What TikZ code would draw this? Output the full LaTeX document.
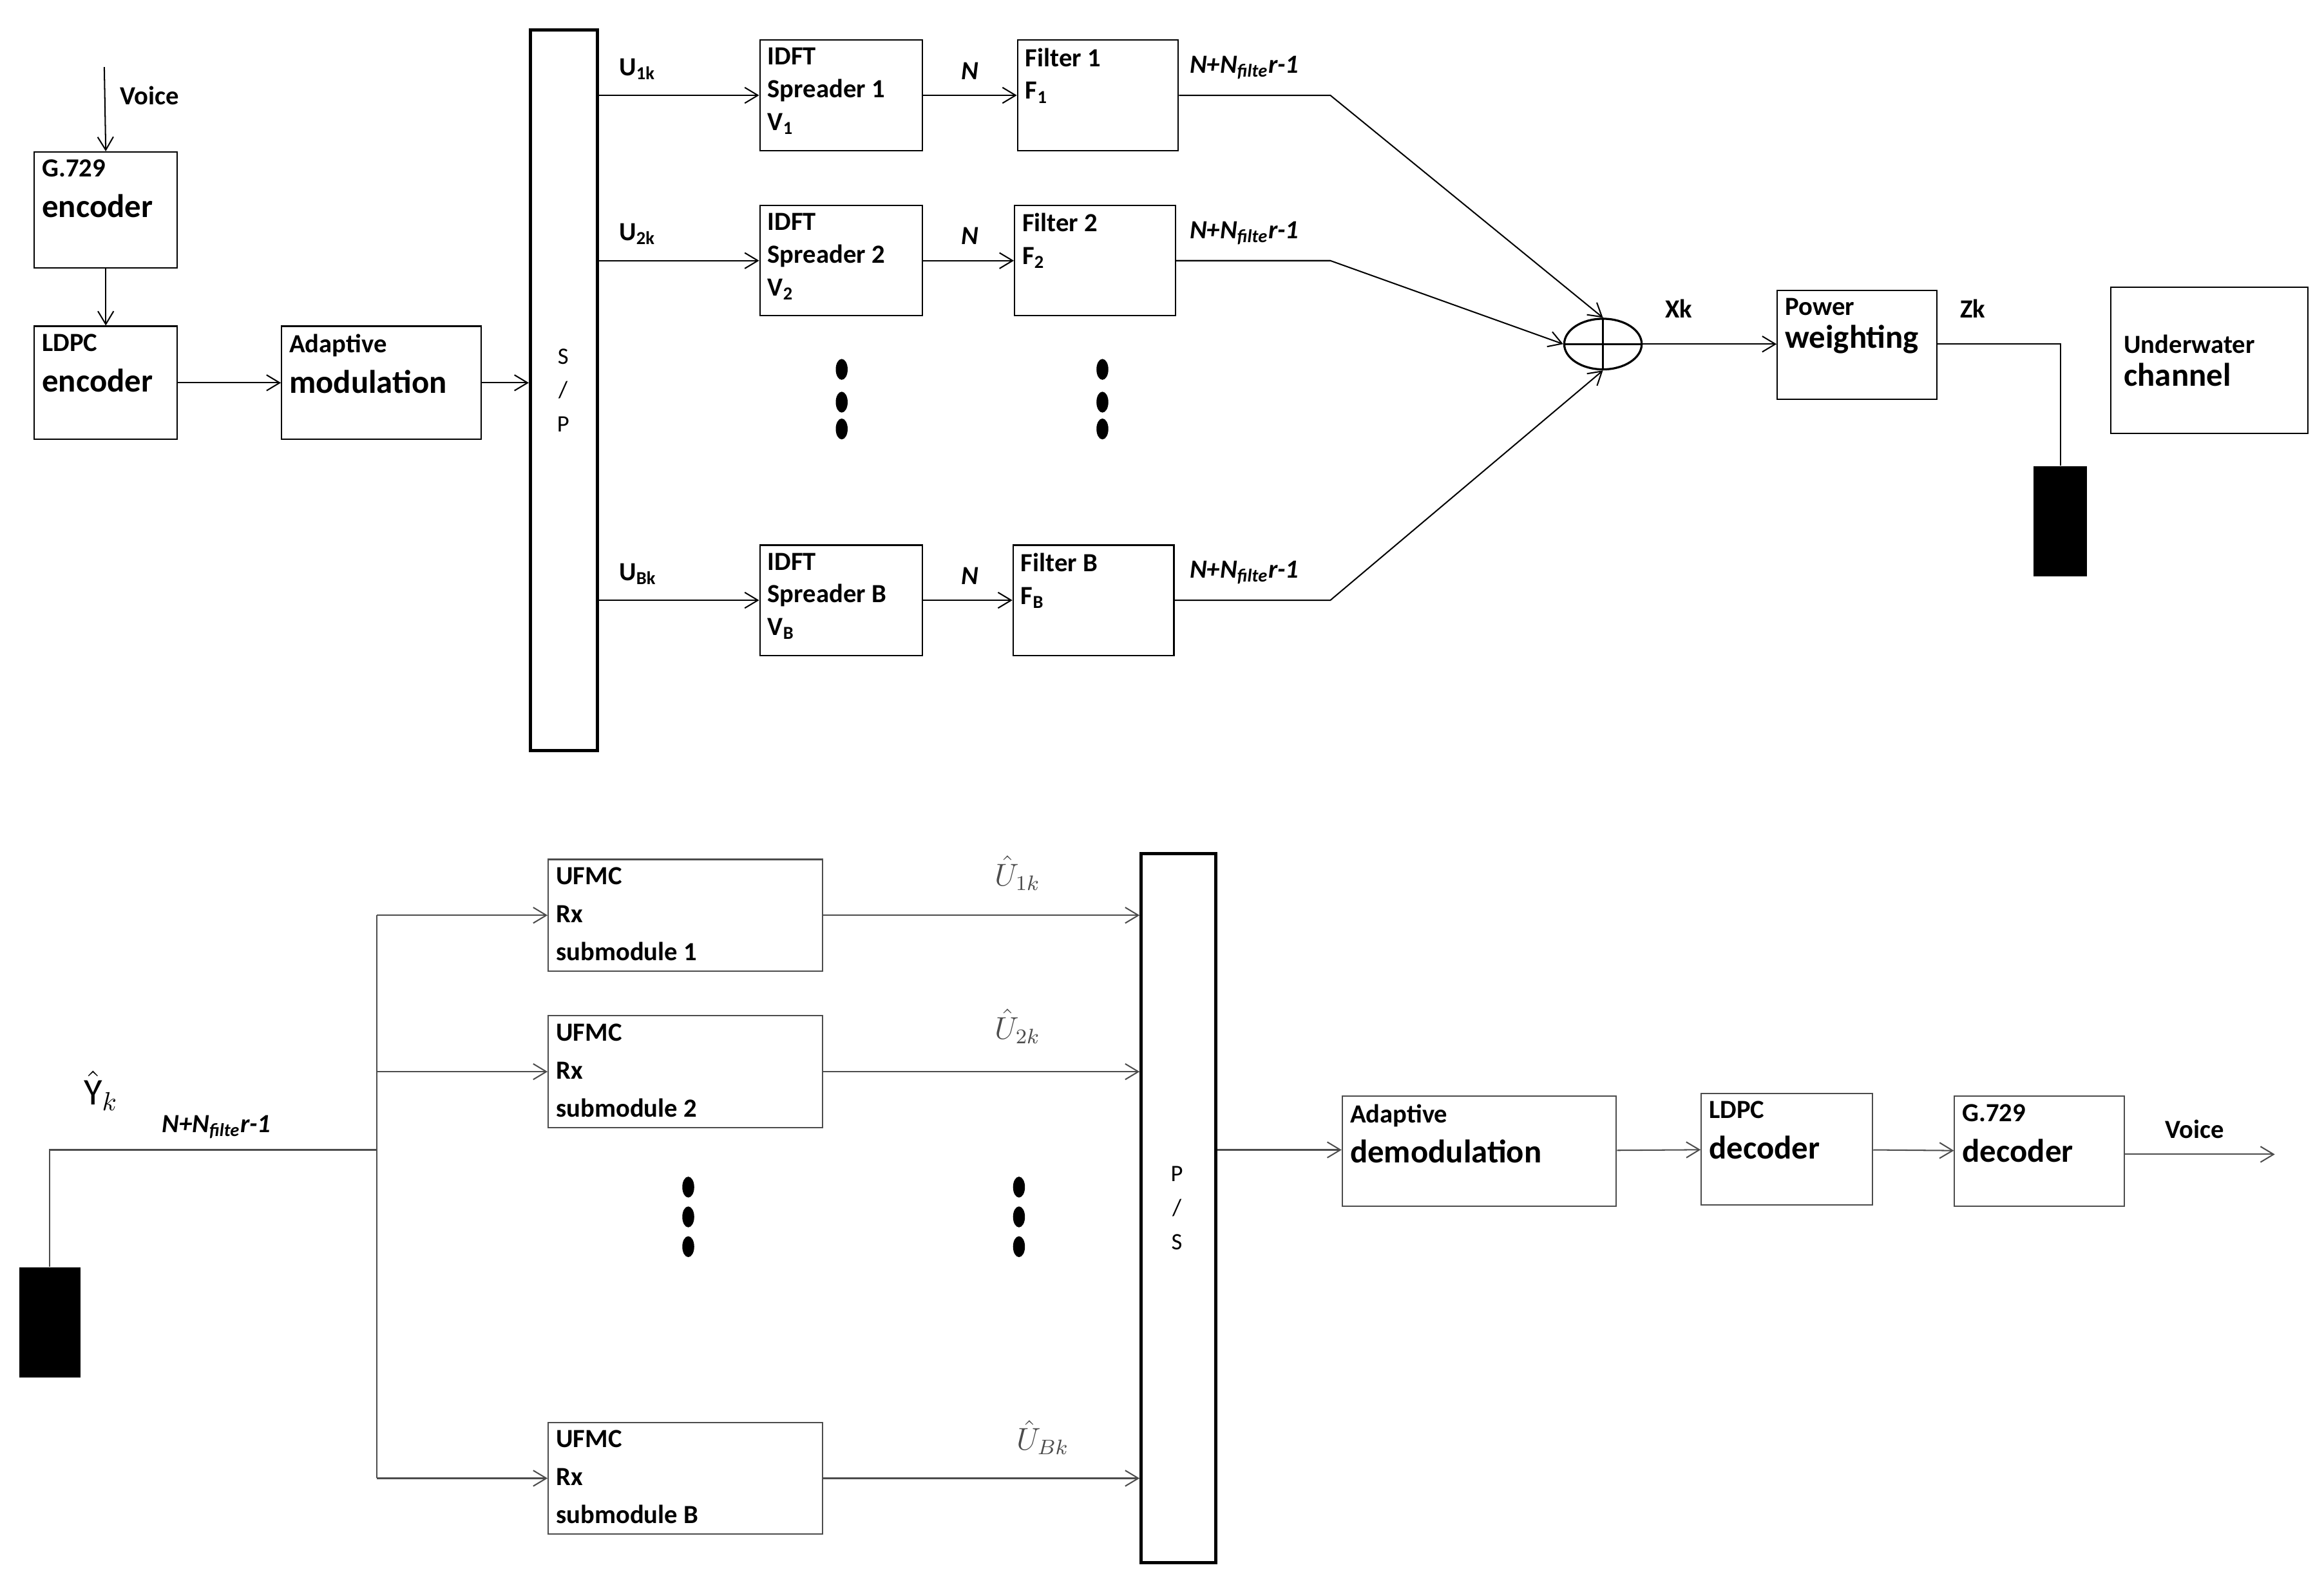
\documentclass[tikz,border=0pt]{standalone}
\usepackage{fontspec}
\setmainfont{Carlito}
\usetikzlibrary{arrows.meta,fit,positioning,shapes.geometric}
\tikzset{
  blk/.style={draw,inner sep=0pt},
  bar/.style={draw,very thick,inner sep=0pt},
  txt/.style={anchor=north west,align=left,inner sep=3pt,font=\fontsize{10}{12.5}\selectfont\bfseries},
  arr/.style={-{Straight Barb[length=5pt,width=6pt]}},
  rx/.style={draw=gray!60!black},
}
\newcommand{\sm}[1]{\textsubscript{#1}}
\newcommand{\bg}[1]{{\fontsize{12.5}{14}\selectfont #1}}
\newcommand{\nf}{\textit{N+N\textsubscript{filte}r-1}}
\begin{document}
\begin{tikzpicture}[x=0.02cm,y=-0.02cm,line width=0.5pt]
  \useasboundingbox (0,0) rectangle (1560,1055);
  % transmitter
  \node[blk,fit={(23,102)(119,180)}] (g729) {};
  \node[txt] at (g729.north west) {G.729\\[3pt]\bg{encoder}};
  \node[blk,fit={(23,219)(119,295)}] (ldpc) {};
  \node[txt] at (ldpc.north west) {LDPC\\[3pt]\bg{encoder}};
  \node[blk,fit={(189,219)(323,295)}] (adm) {};
  \node[txt] at (adm.north west) {Adaptive\\[3pt]\bg{modulation}};
  \node[bar,fit={(356,20)(401,504)}] (sp) {};
  \node[font=\fontsize{9}{13}\selectfont,align=center] at (378,262) {S\\/\\P};
  \coordinate (vin) at (70,45);
  \draw[arr] (vin) -- (g729.north);
  \node[txt,anchor=west] at (75,64) {Voice};
  \draw[arr] (g729) -- (ldpc);
  \draw[arr] (ldpc) -- (adm);
  \draw[arr] (adm) -- (sp.west |- adm);
  % branches
  \foreach \n/\y/\x/\fx/\s in {1/27/510/683/1, 2/138/510/681/2, 3/366/510/680/B}{
    \node[blk,fit={(\x,\y)(\x+109,\y+74)}] (spr\n) {};
    \node[txt] at (spr\n.north west) {IDFT\\Spreader \s\\V\sm{\s}};
    \node[blk,fit={(\fx,\y)(\fx+108,\y+74)}] (fil\n) {};
    \node[txt] at (fil\n.north west) {Filter \s\\F\sm{\s}};
    \draw[arr] (sp.east |- spr\n) -- (spr\n);
    \node[txt,anchor=south west] at (410,\y+32) {U\sm{\s k}};
    \draw[arr] (spr\n) -- (fil\n);
    \node[txt,anchor=south] at (651,\y+32) {\textit{N}};
    \node[txt,anchor=south west] at (793,\y+32) {\nf};
    \coordinate (k\n) at (893,\y+37);
  }
  \node[draw,thick,ellipse,minimum width=1.04cm,minimum height=0.68cm,inner sep=0pt] (sum) at (1076,231) {};
  \draw[thick] (sum.north) -- (sum.south) (sum.west) -- (sum.east);
  \draw[arr] (fil1.east) -- (k1) -- (sum.north);
  \draw[arr] (fil2.east) -- (k2) -- (sum.west);
  \draw[arr] (fil3.east) -- (k3) -- (sum.south);
  \foreach \x in {565,740} \foreach \y in {248,270,288}
    \fill (\x,\y) ellipse (4 and 7);
  \node[blk,fit={(1193,195)(1300,268)}] (pw) {};
  \node[txt] at (pw.north west) {Power\\[0pt]\bg{weighting}};
  \draw[arr] (sum.east) -- (pw.west |- sum);
  \node[txt,anchor=south west] at (1112,219) {Xk};
  \node[txt,anchor=south west] at (1310,219) {Zk};
  \node[fill,inner sep=0pt,fit={(1365,313)(1401,387)}] (ant1) {};
  \draw (pw.east |- sum) -| (ant1.north);
  \node[blk,fit={(1417,193)(1549,291)}] (uwc) {};
  \node[txt,anchor=west] at (1420,242) {Underwater\\\bg{channel}};
  % receiver
  \begin{scope}[rx]
  \node[fill,inner sep=0pt,fit={(13,851)(54,925)}] (ant2) {};
  \coordinate (br) at (253,772);
  \draw (ant2.north) |- (br);
  \node[anchor=south west,font=\Large] at (50,752) {$\hat{\mathrm{Y}}_k$};
  \node[txt,anchor=south west] at (103,770) {\nf};
  \node[bar,draw=black,fit={(766,573)(816,1049)}] (ps) {};
  \node[font=\fontsize{9}{13}\selectfont,align=center] at (790,811) {P\\/\\S};
  \foreach \n/\y/\s in {1/577/1, 2/682/2, 3/955/B}{
    \node[blk,fit={(368,\y)(552,\y+75)}] (ufm\n) {};
    \node[txt] at (ufm\n.north west) {UFMC\\[2pt]Rx\\[2pt]submodule \s};
    \draw[arr] (br |- ufm\n) -- (ufm\n);
    \draw[arr] (ufm\n) -- (ps.west |- ufm\n);
  }
  \draw (br |- ufm1) -- (br |- ufm3);
  \node[anchor=south,text=gray!60!black,font=\large] at (683,604) {$\hat{U}_{1k}$};
  \node[anchor=south,text=gray!60!black,font=\large] at (683,707) {$\hat{U}_{2k}$};
  \node[anchor=south,text=gray!60!black,font=\large] at (700,983) {$\hat{U}_{Bk}$};
  \end{scope}
  \foreach \x in {462,684} \foreach \y in {797,817,837}
    \fill (\x,\y) ellipse (4 and 7);
  \begin{scope}[rx]
  \node[blk,fit={(901,736)(1085,810)}] (adem) {};
  \node[txt] at (adem.north west) {Adaptive\\[3pt]\bg{demodulation}};
  \node[blk,fit={(1142,734)(1257,809)}] (ldec) {};
  \node[txt] at (ldec.north west) {LDPC\\[3pt]\bg{decoder}};
  \node[blk,fit={(1312,736)(1426,810)}] (gdec) {};
  \node[txt] at (gdec.north west) {G.729\\[3pt]\bg{decoder}};
  \coordinate (vout) at (1527,775);
  \draw[arr] (ps.east |- br) -- (adem.west |- br);
  \draw[arr] (adem) -- (ldec);
  \draw[arr] (ldec) -- (gdec);
  \draw[arr] (gdec.east |- vout) -- (vout);
  \node[txt,anchor=south,text=black] at (1473,770) {Voice};
  \end{scope}
\end{tikzpicture}
\end{document}
